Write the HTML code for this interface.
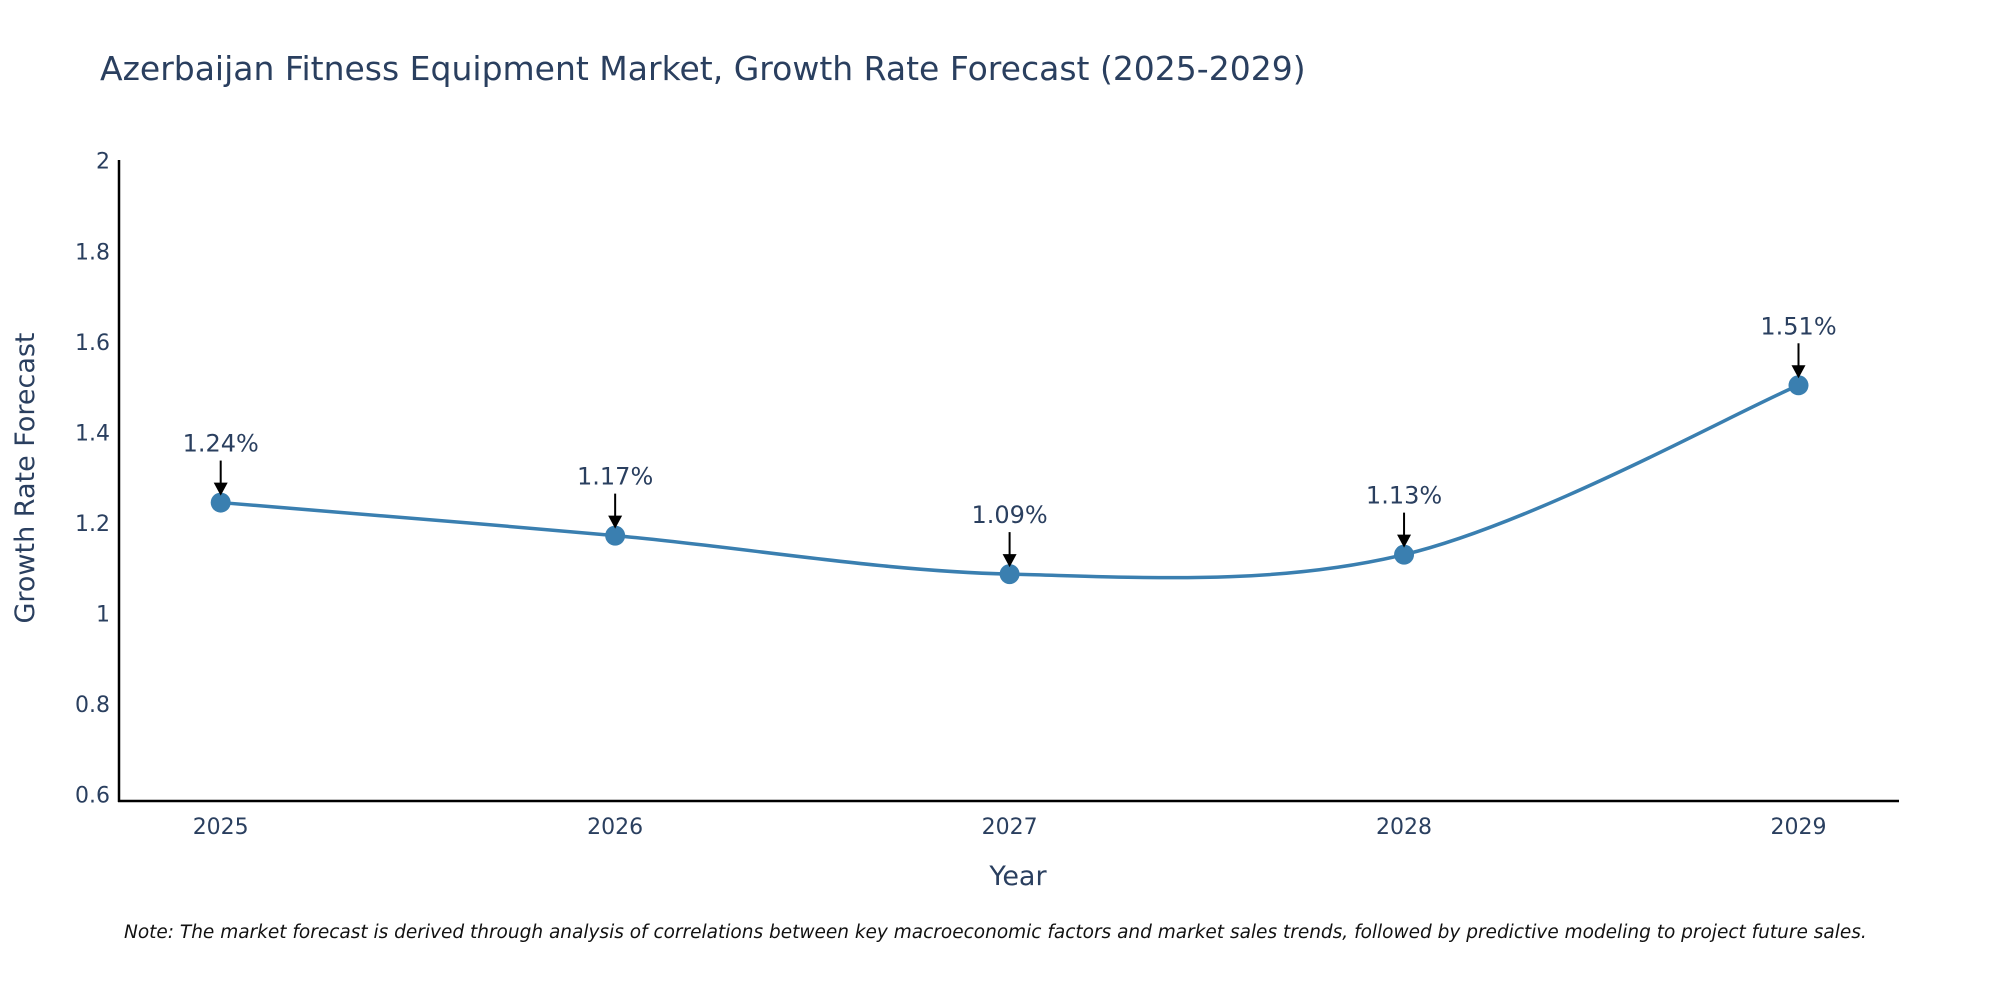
<!DOCTYPE html>
<html><head><meta charset="utf-8"><style>
body{margin:0;background:#fff;}
svg text{font-family:"DejaVu Sans","Liberation Sans",sans-serif;fill:#2a3f5f;}
</style></head><body>
<svg id="chart" width="2000" height="1000" xmlns="http://www.w3.org/2000/svg">
<text x="100" y="80" font-size="33">Azerbaijan Fitness Equipment Market, Growth Rate Forecast (2025-2029)</text>
<g id="yticks"></g>
<g id="xticks"></g>
<line x1="119" y1="160" x2="119" y2="802" stroke="#000" stroke-width="2.5"/>
<line x1="118" y1="801" x2="1899" y2="801" stroke="#000" stroke-width="2.5"/>
<path id="line" fill="none" stroke="#3a7fb0" stroke-width="3.5"/>
<g id="marks"></g>
<text transform="translate(34,478) rotate(-90)" text-anchor="middle" font-size="27">Growth Rate Forecast</text>
<text x="1018" y="885" text-anchor="middle" font-size="27">Year</text>
<text x="124" y="938" font-size="18.5" font-style="italic" style="fill:#111">Note: The market forecast is derived through analysis of correlations between key macroeconomic factors and market sales trends, followed by predictive modeling to project future sales.</text>
</svg>
<script>
const years=[2025,2026,2027,2028,2029];
const values=[1.245,1.172,1.087,1.13,1.504];
const labels=["1.24%","1.17%","1.09%","1.13%","1.51%"];
const yTicks=[0.6,0.8,1,1.2,1.4,1.6,1.8,2];
const yTickLabels=["0.6","0.8","1","1.2","1.4","1.6","1.8","2"];
const NS="http://www.w3.org/2000/svg";
const xs=v=>220.7+(v-2025)*(1798.5-220.7)/4;
const ys=v=>160.7+(2-v)*452.8;
function mk(t,a,p){const e=document.createElementNS(NS,t);for(const k in a)e.setAttribute(k,a[k]);p.appendChild(e);return e;}
const yt=document.getElementById('yticks');
yTicks.forEach((v,i)=>{const t=mk('text',{x:110,y:ys(v)+8,'text-anchor':'end','font-size':22},yt);


t.textContent=yTickLabels[i];});
const xt=document.getElementById('xticks');
years.forEach(y=>{const t=mk('text',{x:xs(y),y:834,'text-anchor':'middle','font-size':22},xt);


t.textContent=y;});
const P=years.map((y,i)=>[xs(y),ys(values[i])]);
let d=`M${P[0][0]},${P[0][1]}`;const s=1/6;
for(let i=0;i<P.length-1;i++){const p0=P[Math.max(i-1,0)],p1=P[i],p2=P[i+1],p3=P[Math.min(i+2,P.length-1)];
d+=` C${p1[0]+(p2[0]-p0[0])*s},${p1[1]+(p2[1]-p0[1])*s} ${p2[0]-(p3[0]-p1[0])*s},${p2[1]-(p3[1]-p1[1])*s} ${p2[0]},${p2[1]}`;}
document.getElementById('line').setAttribute('d',d);
const g=document.getElementById('marks');
P.forEach((p,i)=>{const c=mk('circle',{cx:p[0],cy:p[1],r:10,fill:'#3a7fb0'},g);


const l=mk('line',{x1:p[0],y1:p[1]-42,x2:p[0],y2:p[1]-18,stroke:'#000','stroke-width':2},g);


mk('path',{d:`M${p[0]-7},${p[1]-20} L${p[0]+7},${p[1]-20} L${p[0]},${p[1]-7} z`,fill:'#000'},g);
const t=mk('text',{x:p[0],y:p[1]-51,'text-anchor':'middle','font-size':24},g);


t.textContent=labels[i];});
</script>
</body></html>
